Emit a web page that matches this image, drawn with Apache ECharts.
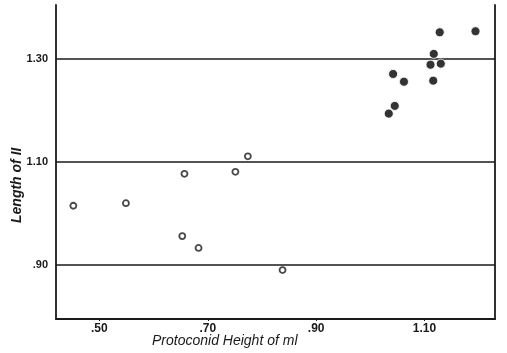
<!DOCTYPE html>
<html>
<head>
<meta charset="utf-8">
<script src="https://cdn.jsdelivr.net/npm/echarts@6/dist/echarts.min.js"></script>
<style>html,body{margin:0;padding:0;background:#fff;}#c{width:507px;height:353px;}</style>
</head>
<body>
<div id="c"></div>
<script>
// Open circles (x = protoconid height of m1, y = length of I1)
const openX = [0.452, 0.549, 0.657, 0.751, 0.774, 0.653, 0.683, 0.838];
const openY = [1.015, 1.020, 1.077, 1.081, 1.111, 0.956, 0.933, 0.890];
// Filled circles
const filledX = [1.128, 1.194, 1.117, 1.111, 1.130, 1.042, 1.062, 1.116, 1.045, 1.034];
const filledY = [1.352, 1.354, 1.310, 1.289, 1.291, 1.271, 1.256, 1.258, 1.209, 1.194];
// Ticks
const xTickValues = [0.5, 0.7, 0.9, 1.1];
const xTickLabels = ['.50', '.70', '.90', '1.10'];
const yTickValues = [0.9, 1.1, 1.3];
const yTickLabels = ['.90', '1.10', '1.30'];
const xTitle = 'Protoconid Height of ml';
const yTitle = 'Length of II';

const ink = '#1a1a1a';
const pair = (xs, ys) => xs.map((x, i) => [x, ys[i]]);
const lab = (vals, labs) => v => { const i = vals.findIndex(t => Math.abs(t - v) < 1e-6); return i >= 0 ? labs[i] : ''; };

const chart = echarts.init(document.getElementById('c'), null, {renderer: 'canvas'});
chart.setOption({
  animation: false,
  backgroundColor: '#fff',
  grid: {left: 56, right: 12, top: 5, bottom: 34, containLabel: false},
  xAxis: {
    type: 'value', min: 0.42, max: 1.23,
    axisLine: {show: true, lineStyle: {color: ink, width: 1.8}},
    axisTick: {show: true, length: 2, customValues: xTickValues, lineStyle: {color: ink}},
    splitLine: {show: false},
    axisLabel: {customValues: xTickValues, formatter: lab(xTickValues, xTickLabels), color: ink,
      fontFamily: 'Liberation Sans, Arial, sans-serif', fontWeight: 'bold', fontSize: 12, margin: 4}
  },
  yAxis: [{
    type: 'value', min: 0.795, max: 1.405, position: 'left',
    axisLine: {show: true, lineStyle: {color: ink, width: 1.8}},
    axisTick: {show: false},
    splitLine: {show: false},
    axisLabel: {customValues: yTickValues, formatter: lab(yTickValues, yTickLabels), color: ink,
      fontFamily: 'Liberation Sans, Arial, sans-serif', fontWeight: 'bold', fontSize: 11, margin: 8}
  }, {
    type: 'value', min: 0.795, max: 1.405, position: 'right',
    axisLine: {show: true, onZero: false, lineStyle: {color: ink, width: 1.8}},
    axisTick: {show: false}, axisLabel: {show: false}, splitLine: {show: false}
  }],
  graphic: [
    {type: 'text', left: 152, top: 334, style: {text: xTitle, fill: ink, font: 'italic 500 14px "Liberation Sans", Arial, sans-serif'}},
    {type: 'text', x: 10, y: 223, rotation: Math.PI / 2, style: {text: yTitle, fill: ink, font: 'italic bold 14px "Liberation Sans", Arial, sans-serif', textAlign: 'left', textVerticalAlign: 'top'}}
  ],
  series: [{
    type: 'scatter', data: pair(openX, openY), symbol: 'circle', symbolSize: 6,
    itemStyle: {color: '#fff', borderColor: ink, borderWidth: 1.8}, z: 5,
    markLine: {
      silent: true, symbol: 'none', label: {show: false},
      lineStyle: {color: ink, width: 1.6, type: 'solid'},
      data: yTickValues.map(v => ({yAxis: v}))
    }
  }, {
    type: 'scatter', data: pair(filledX, filledY), symbol: 'circle', symbolSize: 9,
    itemStyle: {color: '#000', borderColor: '#fff', borderWidth: 1}, z: 6
  }]
});
</script>
</body>
</html>
